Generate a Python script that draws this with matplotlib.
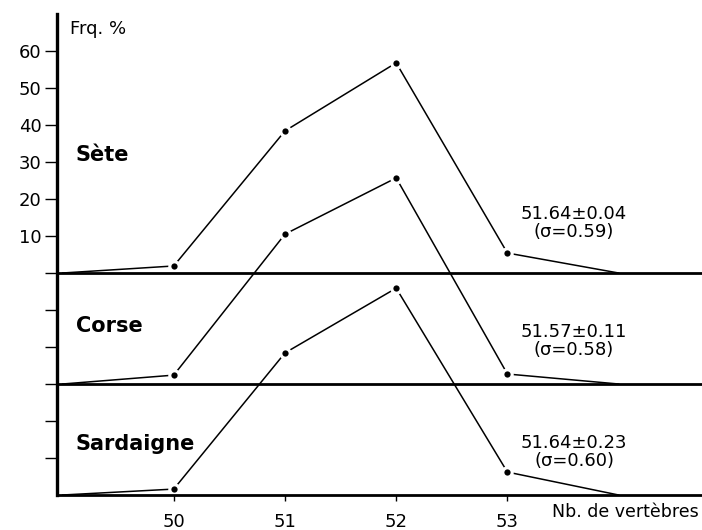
import numpy as np
import matplotlib
matplotlib.use("Agg")
import matplotlib.pyplot as plt

# nombre de vertebres
vert = [49, 50, 51, 52, 53, 54]

# frequences (%)
sete = [0, 1.9, 38.4, 56.8, 5.4, 0]
corse = [0, 2.4, 40.5, 55.7, 2.7, 0]
sardaigne = [0, 1.6, 38.4, 55.9, 6.2, 0]

names = ["Sète", "Corse", "Sardaigne"]
offsets = [60, 30, 0]
name_y = [92, 45.7, 13.8]
stats = ["51.64±0.04\n(σ=0.59)", "51.57±0.11\n(σ=0.58)", "51.64±0.23\n(σ=0.60)"]
stats_y = [73.5, 41.6, 11.6]

ytick_pos = [10, 20, 30, 40, 50, 60, 70, 80, 90, 100, 110, 120]
ytick_lab = ["", "", "", "", "", "", "10", "20", "30", "40", "50", "60"]
xticks = [50, 51, 52, 53]

fig = plt.figure(figsize=(7.02, 5.30), dpi=100)
ax = fig.add_axes([57/702, 35/530, 645/702, 481/530])
ax.set_xlim(48.95, 54.75)
ax.set_ylim(0, 130)

series = [sete, corse, sardaigne]
for vals, off, name, ny, st, sy in zip(series, offsets, names, name_y, stats, stats_y):
    y = np.array(vals) + off
    ax.plot(vert, y, color="black", lw=1.1, zorder=2)
    # petits blancs autour des points
    ax.plot(vert[1:-1], y[1:-1], "o", color="white", ms=9, mec="none", zorder=3)
    ax.plot(vert[1:-1], y[1:-1], "o", color="black", ms=4.5, mec="none", zorder=5)
    if off > 0:
        ax.axhline(off, color="black", lw=2, zorder=4)
    ax.text(49.12, ny, name, fontsize=15, fontweight="bold", va="center", ha="left")
    ax.text(53.6, sy, st, fontsize=13, ha="center", va="center", linespacing=1.0)

for s in ["top", "right"]:
    ax.spines[s].set_visible(False)
ax.spines["left"].set_linewidth(2.4)
ax.spines["bottom"].set_linewidth(2)
ax.spines["bottom"].set_zorder(4)

ax.set_yticks(ytick_pos)
ax.set_yticklabels(ytick_lab, fontsize=13)
ax.tick_params(axis="y", length=9, width=1, pad=2)
ax.set_xticks(xticks)
ax.set_xticklabels([str(v) for v in xticks], fontsize=13)
ax.tick_params(axis="x", length=4, width=1, pad=9)

ax.text(49.07, 126, "Frq. %", fontsize=13, va="center", ha="left")
ax.text(54.72, -4.6, "Nb. de vertèbres", fontsize=12.5, ha="right", va="center", clip_on=False)

fig.savefig("out.png", dpi=100)
